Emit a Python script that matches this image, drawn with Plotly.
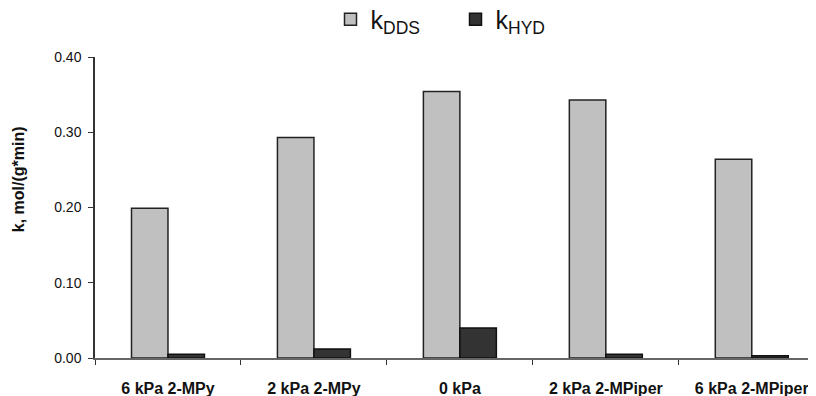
import plotly.graph_objects as go

categories = ["6 kPa 2-MPy", "2 kPa 2-MPy", "0 kPa", "2 kPa 2-MPiper", "6 kPa 2-MPiper"]
k_dds = [0.199, 0.293, 0.354, 0.343, 0.264]
k_hyd = [0.005, 0.012, 0.040, 0.005, 0.003]
y_ticks = [0.0, 0.1, 0.2, 0.3, 0.4]
y_tick_labels = ["0.00", "0.10", "0.20", "0.30", "0.40"]

fig = go.Figure()
fig.add_trace(go.Bar(
    x=categories, y=k_dds, name="k<sub>DDS</sub>",
    marker=dict(color="#c0c0c0", line=dict(color="#222222", width=1.5)),
))
fig.add_trace(go.Bar(
    x=categories, y=k_hyd, name="k<sub>HYD</sub>",
    marker=dict(color="#333333", line=dict(color="#111111", width=1.5)),
))

# page body adds an 8px offset; figure sized to fill the remaining window
fig.update_layout(
    width=808, height=388,
    margin=dict(l=87, r=0, t=49, b=38, autoexpand=False),
    paper_bgcolor="white", plot_bgcolor="white",
    barmode="group", bargap=0.5, bargroupgap=0,
    font=dict(family="Liberation Sans, Arial, sans-serif", color="#111111"),
    showlegend=True,
    legend=dict(orientation="h", x=0.5, xanchor="center", y=1.125, yanchor="middle",
                font=dict(size=25, color="#111111"), itemwidth=30, entrywidth=80,
                bgcolor="rgba(0,0,0,0)"),
    annotations=[dict(
        text="<b>k, mol/(g*min)</b>", textangle=-90,
        xref="paper", yref="paper", x=-0.105, y=0.595,
        xanchor="center", yanchor="middle", showarrow=False,
        font=dict(size=16, color="#111111"),
    )],
)
fig.update_xaxes(
    type="category", range=[-0.5, 4.44],
    tickson="boundaries", ticks="outside", ticklen=5, tickcolor="#333333",
    showline=True, linecolor="#666666", linewidth=1.5,
    tickfont=dict(size=16, color="#111111"),
    tickvals=categories, ticktext=["<b>%s</b>" % c for c in categories],
    ticklabelstandoff=15,
    showgrid=False, zeroline=False, automargin=False,
)
fig.update_yaxes(
    range=[0, 0.4], tickvals=y_ticks, ticktext=y_tick_labels,
    ticks="outside", ticklen=5, tickcolor="#333333",
    showline=True, linecolor="#333333", linewidth=1.5,
    tickfont=dict(size=14, color="#111111"), ticklabelstandoff=4,
    showgrid=False, zeroline=False, automargin=False,
)

fig.write_html("out.html")
